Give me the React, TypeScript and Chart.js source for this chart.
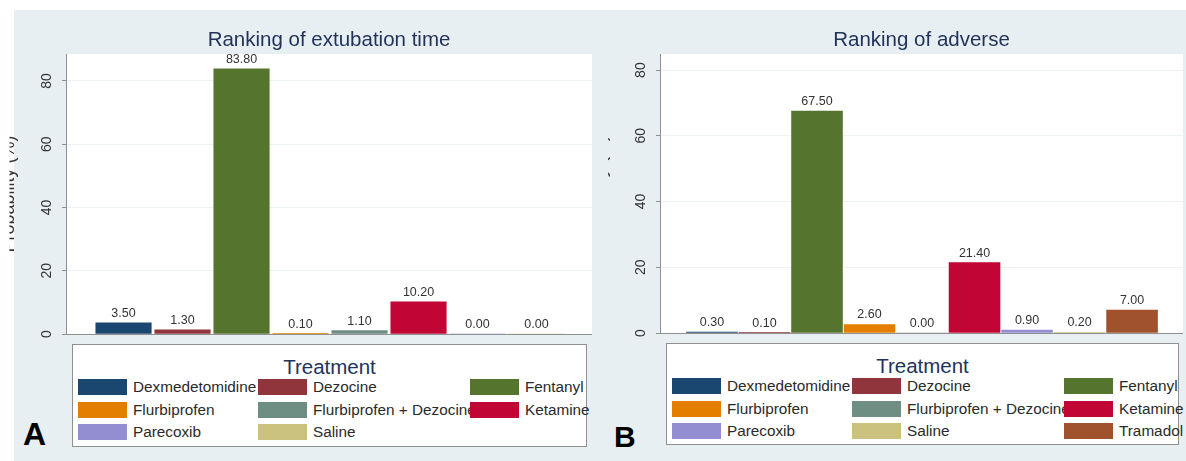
import React, { useEffect, useRef } from "react";
import { Chart, registerables } from "chart.js";

Chart.register(...registerables);

// ---------- data ----------
const treatmentsA = [
  "Dexmedetomidine",
  "Dezocine",
  "Fentanyl",
  "Flurbiprofen",
  "Flurbiprofen + Dezocine",
  "Ketamine",
  "Parecoxib",
  "Saline",
];
const valuesA = [3.5, 1.3, 83.8, 0.1, 1.1, 10.2, 0.0, 0.0];

const treatmentsB = [
  "Dexmedetomidine",
  "Dezocine",
  "Fentanyl",
  "Flurbiprofen",
  "Flurbiprofen + Dezocine",
  "Ketamine",
  "Parecoxib",
  "Saline",
  "Tramadol",
];
const valuesB = [0.3, 0.1, 67.5, 2.6, 0.0, 21.4, 0.9, 0.2, 7.0];

const yTicks = [0, 20, 40, 60, 80];
const titleA = "Ranking of extubation time";
const titleB = "Ranking of adverse";
const yTitle = "Probability (%)";
const legendTitle = "Treatment";
const panelLetters = ["A", "B"];

const treatmentColors: Record<string, string> = {
  Dexmedetomidine: "#1a476f",
  Dezocine: "#90353b",
  Fentanyl: "#55752f",
  Flurbiprofen: "#e37e00",
  "Flurbiprofen + Dezocine": "#6e8e84",
  Ketamine: "#c10534",
  Parecoxib: "#938dd2",
  Saline: "#cac27e",
  Tramadol: "#a0522d",
};

// ---------- style ----------
const FONT = '"Liberation Sans", Arial, Helvetica, sans-serif';
const TITLE_COLOR = "#22335a";
const TEXT_COLOR = "#333333";
const AXIS_COLOR = "#8f8f8f";
const GRID_COLOR = "#edf2f5";
const BG_COLOR = "#e8eff3";

type PanelProps = {
  names: string[];
  values: number[];
  title: string;
  left: number;
  width: number;
  height: number;
  axisX: number;
  plotRight: number;
  plotTop: number;
  plotBottom: number;
  yMax: number;
  xMin: number;
  xMax: number;
  titleBaseline: number;
  yTitleBaseline: number;
  yTitleClip: number;
};

function ChartPanel(p: PanelProps) {
  const ref = useRef<HTMLCanvasElement | null>(null);
  useEffect(() => {
    if (!ref.current) return;
    const plugin = {
      id: "panelDecor",
      beforeDraw(chart: any) {
        const { ctx, chartArea: a } = chart;
        ctx.save();
        ctx.fillStyle = "#ffffff";
        ctx.fillRect(a.left, a.top, a.right - a.left, a.bottom - a.top);
        ctx.restore();
      },
      afterDatasetsDraw(chart: any) {
        const ctx = chart.ctx;
        const meta = chart.getDatasetMeta(0);
        ctx.save();
        ctx.font = `12.5px ${FONT}`;
        ctx.fillStyle = TEXT_COLOR;
        ctx.textAlign = "center";
        ctx.textBaseline = "alphabetic";
        meta.data.forEach((bar: any, i: number) => {
          ctx.fillText(p.values[i].toFixed(2), bar.x, bar.y - 6);
        });
        ctx.restore();
      },
      afterDraw(chart: any) {
        const ctx = chart.ctx;
        const a = chart.chartArea;
        const ys = chart.scales.y;
        ctx.save();
        ctx.font = `20.5px ${FONT}`;
        ctx.fillStyle = TITLE_COLOR;
        ctx.textAlign = "center";
        ctx.textBaseline = "alphabetic";
        ctx.fillText(p.title, (a.left + a.right) / 2, p.titleBaseline);
        ctx.font = `14px ${FONT}`;
        ctx.fillStyle = TEXT_COLOR;
        for (const t of yTicks) {
          const py = ys.getPixelForValue(t);
          ctx.save();
          ctx.translate(a.left - 19, py);
          ctx.rotate(-Math.PI / 2);
          ctx.textAlign = "center";
          ctx.textBaseline = "middle";
          ctx.fillText(String(t), 0, 0);
          ctx.restore();
        }
        ctx.save();
        ctx.beginPath();
        ctx.rect(p.yTitleClip, 0, chart.width, chart.height);
        ctx.clip();
        ctx.translate(p.yTitleBaseline, (a.top + a.bottom) / 2);
        ctx.rotate(-Math.PI / 2);
        ctx.font = `18px ${FONT}`;
        ctx.fillStyle = TEXT_COLOR;
        ctx.textAlign = "center";
        ctx.textBaseline = "alphabetic";
        ctx.fillText(yTitle, 0, 0);
        ctx.restore();
        ctx.restore();
      },
    };

    const chart = new Chart(ref.current, {
      type: "bar",
      data: {
        datasets: [
          {
            data: p.values.map((v, i) => ({ x: i, y: v })),
            backgroundColor: p.names.map((n) => treatmentColors[n]),
            borderWidth: 0,
            categoryPercentage: 1,
            barPercentage: 1,
          } as any,
        ],
      },
      options: {
        animation: false,
        responsive: false,
        maintainAspectRatio: false,
        layout: {
          padding: {
            left: 0,
            right: p.width - p.plotRight,
            top: p.plotTop,
            bottom: p.height - p.plotBottom,
          },
        },
        plugins: {
          legend: { display: false },
          tooltip: { enabled: false },
          title: { display: false },
        },
        scales: {
          x: {
            type: "linear",
            display: false,
            min: p.xMin,
            max: p.xMax,
            offset: false,
          },
          y: {
            min: 0,
            max: p.yMax,
            afterFit: (s: any) => {
              s.width = p.axisX;
              s.paddingTop = 0;
              s.paddingBottom = 0;
            },
            ticks: { display: false, stepSize: 20, includeBounds: false },
            border: { display: true, color: AXIS_COLOR, width: 1 },
            grid: {
              color: (c: any) => (c.tick && c.tick.value === 0 ? AXIS_COLOR : GRID_COLOR),
              lineWidth: 1,
              drawTicks: true,
              tickLength: 4,
              tickColor: AXIS_COLOR,
            },
          },
        } as any,
      },
      plugins: [plugin],
    });
    return () => chart.destroy();
  }, []);

  return (
    <canvas
      ref={ref}
      width={p.width}
      height={p.height}
      style={{ position: "absolute", left: p.left, top: 0, width: p.width, height: p.height }}
    />
  );
}

type LegendProps = { names: string[]; left: number; top: number; width: number; height: number };

const colSwatchX = [6, 186, 398];
const colTextX = [61, 241, 453];
const rowTop = [35, 57.5, 80];

function LegendBox(p: LegendProps) {
  return (
    <div
      style={{
        position: "absolute",
        left: p.left,
        top: p.top,
        width: p.width,
        height: p.height,
        boxSizing: "border-box",
        border: `1px solid ${AXIS_COLOR}`,
        background: "#ffffff",
        fontFamily: FONT,
      }}
    >
      <div
        style={{
          position: "absolute",
          left: 0,
          width: p.width - 2,
          top: 10,
          textAlign: "center",
          fontSize: "20.5px",
          lineHeight: "24px",
          color: TITLE_COLOR,
        }}
      >
        {legendTitle}
      </div>
      {p.names.map((n, i) => {
        const c = i % 3;
        const r = Math.floor(i / 3);
        return (
          <React.Fragment key={n}>
            <div
              style={{
                position: "absolute",
                left: colTextX[c] - 1,
                top: rowTop[r] - 1,
                height: 16,
                lineHeight: "16px",
                fontSize: "15.3px",
                whiteSpace: "nowrap",
                color: "#2a2a2a",
              }}
            >
              {n}
            </div>
            <div
              style={{
                position: "absolute",
                left: colSwatchX[c] - 1,
                top: rowTop[r] - 1,
                width: 49,
                height: 16,
                background: treatmentColors[n],
              }}
            />
          </React.Fragment>
        );
      })}
    </div>
  );
}

export default function App() {
  return (
    <div
      style={{
        position: "absolute",
        left: 0,
        top: 0,
        width: 1186,
        height: 461,
        background: "#ffffff",
        overflow: "hidden",
      }}
    >
      <div style={{ position: "absolute", left: 14, top: 10, width: 1172, height: 451, background: BG_COLOR }} />
      <ChartPanel
        names={treatmentsA}
        values={valuesA}
        title={titleA}
        left={0}
        width={600}
        height={342}
        axisX={66}
        plotRight={592}
        plotTop={54}
        plotBottom={334}
        yMax={88.5}
        xMin={-0.975}
        xMax={7.94}
        titleBaseline={46}
        yTitleBaseline={14}
        yTitleClip={9.5}
      />
      <ChartPanel
        names={treatmentsB}
        values={valuesB}
        title={titleB}
        left={600}
        width={586}
        height={342}
        axisX={60}
        plotRight={583}
        plotTop={54}
        plotBottom={333}
        yMax={84.9}
        xMin={-0.99}
        xMax={8.97}
        titleBaseline={46}
        yTitleBaseline={6}
        yTitleClip={8}
      />
      <LegendBox names={treatmentsA} left={72} top={344} width={515} height={103} />
      <LegendBox names={treatmentsB} left={666} top={343} width={513} height={102} />
      <div
        style={{
          position: "absolute",
          left: 23,
          top: 418,
          fontFamily: FONT,
          fontWeight: "bold",
          fontSize: "32px",
          lineHeight: "32px",
          color: "#000",
        }}
      >
        {panelLetters[0]}
      </div>
      <div
        style={{
          position: "absolute",
          left: 614,
          top: 422,
          fontFamily: FONT,
          fontWeight: "bold",
          fontSize: "30px",
          lineHeight: "30px",
          color: "#000",
        }}
      >
        {panelLetters[1]}
      </div>
    </div>
  );
}
